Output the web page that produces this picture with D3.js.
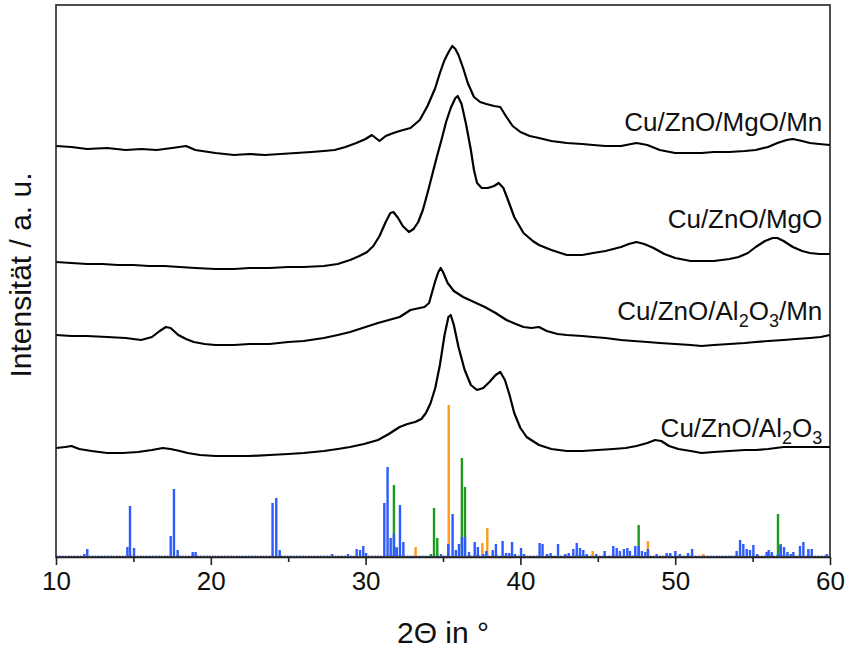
<!DOCTYPE html>
<html>
<head>
<meta charset="utf-8">
<script src="https://cdn.jsdelivr.net/npm/d3@7"></script>
<style>
  body { margin: 0; background: #fff; }
  svg text { font-family: "Liberation Sans", Arial, sans-serif; fill: #111; }
</style>
</head>
<body>
<div id="chart"></div>
<script>
// XRD patterns, [2theta, intensity a.u.]
const mgoMn = [[10,411],[11,410],[12,408],[13.3,409],[14.5,407],[15.5,408],[16.5,407],[17.5,409],[18.4,411],[19,407],[20.3,404],[21.5,402],[22.5,403],[23.5,402],[24.5,403],[25.5,404],[26.5,405],[27.3,406],[28,407],[28.7,410],[29.4,414],[30,418],[30.4,422],[30.9,416],[31.3,421],[31.8,424],[32.2,426],[32.9,429],[33.5,437],[34,451],[34.5,469],[34.8,484],[35.1,497],[35.4,506],[35.6,511],[35.8,508],[36,502],[36.3,489],[36.6,474],[37,460],[37.4,455],[37.8,453],[38.3,451],[38.7,450],[39.1,440],[39.5,431],[40,425],[40.6,421],[41.2,419],[42,416],[43,414],[44,413],[44.7,412],[45.5,411],[46.5,411],[47.5,414],[48.2,412],[49,407],[50,404],[51,404],[51.7,404],[52.5,405],[53.5,405],[54.5,406],[55.2,407],[56,410],[56.6,414],[57.2,417],[57.6,418],[58.2,416],[58.7,414],[59.3,413],[60,412]];
const mgo = [[10,295],[11,294],[12,293],[13,293],[14,292],[15,292],[16,291],[17,291],[18,290],[19,289],[20.3,288],[21.5,288],[22.5,289],[23.8,289],[25,290],[26,290],[27.3,291],[28.2,293],[29,297],[29.6,301],[30.1,305],[30.5,311],[30.9,321],[31.3,335],[31.6,344],[31.8,345],[32.1,339],[32.4,331],[32.8,325],[33.1,328],[33.4,335],[33.7,347],[34,364],[34.3,382],[34.6,400],[34.9,417],[35.2,435],[35.5,449],[35.8,459],[35.95,461],[36.2,453],[36.5,432],[36.8,407],[37,387],[37.2,374],[37.5,369],[37.9,369],[38.3,371],[38.6,374],[38.9,369],[39.2,357],[39.6,340],[40.2,324],[40.8,316],[41.2,312],[42,307],[43,302],[44,302],[44.7,304],[45.5,306],[46.5,310],[47,313],[47.5,315],[48,313],[48.6,309],[49.3,303],[50,299],[51,296],[51.7,296],[52.5,296],[53.5,298],[54.1,300],[54.7,304],[55.2,310],[55.8,316],[56.3,319],[56.6,319],[57,316],[57.6,310],[58.2,306],[58.7,304],[59.3,303],[60,303]];
const alMn = [[10,222],[11,221],[12,221],[13.3,220],[14.5,219],[15.5,217],[16.2,220],[16.7,226],[17.1,230],[17.4,229],[17.9,222],[18.4,218],[18.9,215],[19.6,213],[20.3,212],[21.5,212],[22.5,213],[23.8,213],[25,215],[26,216],[27.3,219],[28.2,222],[29,225],[29.4,227],[30,230],[30.8,234],[31.5,237],[32.2,240],[32.6,244],[32.9,247],[33.2,248],[33.5,249],[33.8,250],[34.1,254],[34.3,265],[34.5,276],[34.7,285],[34.85,289],[35,285],[35.3,274],[35.7,266],[36.3,260],[37,255],[37.7,250],[38.4,244],[39.1,237],[39.7,233],[40.2,230],[40.7,229],[41.2,230],[41.7,226],[42.4,223],[43,222],[44,221],[44.7,220],[45.5,219],[46.5,217],[47.3,216],[48.2,215],[49,214],[50,213],[51,212],[51.7,211],[52.5,212],[53.5,213],[54.5,214],[55.2,215],[56,216],[57,217],[57.8,218],[58.7,219],[59.4,220],[60,222]];
const al = [[10,109],[10.6,110],[11,111],[11.5,108],[12.3,106],[13.3,104],[14.3,104],[15.3,105],[16.2,107],[16.9,109],[17.4,108],[18,106],[18.5,104],[19.3,102],[20.3,101],[21.5,101],[22.5,101],[23.8,102],[25,103],[26,104],[27.3,106],[28.2,108],[29,110],[29.9,113],[30.8,117],[31.5,123],[32.2,130],[32.7,133],[33.2,135],[33.6,138],[33.9,144],[34.2,154],[34.5,169],[34.8,192],[35.1,222],[35.35,240],[35.5,242],[35.7,232],[36,210],[36.4,187],[36.8,172],[37.2,167],[37.6,169],[38,175],[38.4,182],[38.7,185],[39,177],[39.3,162],[39.6,144],[40,129],[40.4,120],[41.2,112],[42,108],[43,106],[44,106],[45,107],[46,108],[46.8,109],[47.5,111],[48.2,114],[48.7,117],[49.1,116],[49.6,111],[50.2,108],[51,106],[51.7,104],[52.5,105],[53.5,106],[54.5,107],[55.2,107],[56,108],[57,110],[58,110],[59,110],[60,110]];

const curveNames = ["Cu/ZnO/MgO/Mn", "Cu/ZnO/MgO", "Cu/ZnO/Al2O3/Mn", "Cu/ZnO/Al2O3"];
const labelLevels = [426, 329, 237, 120];

// reference patterns [2theta, rel. intensity]
const refBlue = [[11.83,2],[12.02,7],[14.61,9],[14.78,50],[15.04,8],[17.41,20],[17.62,67],[17.86,6],[18.83,4],[19.02,4],[23.99,53],[24.23,58],[24.45,6],[27.84,2],[28.86,2],[29.42,7],[29.64,6],[29.85,10],[30.03,3],[31.21,53],[31.42,89],[31.62,18],[31.83,22],[32.0,8],[32.22,51],[32.44,14],[34.87,2],[35.34,12],[35.62,42],[35.83,6],[36.03,12],[36.22,19],[36.42,19],[36.68,4],[37.05,14],[37.25,9],[37.6,2],[37.8,5],[38.21,6],[38.42,12],[38.85,15],[39.07,3],[39.28,3],[39.46,14],[39.65,2],[40.04,8],[40.23,2],[41.24,13],[41.43,12],[41.72,2],[41.95,3],[42.43,12],[42.9,2],[43.12,3],[43.42,7],[43.64,13],[43.85,8],[44.06,6],[44.28,2],[44.9,2],[45.44,5],[46.0,10],[46.22,8],[46.43,5],[46.69,7],[46.91,8],[47.08,5],[47.42,10],[47.64,10],[47.85,5],[48.07,4],[48.24,7],[48.8,2],[49.45,3],[49.68,3],[50.01,5],[50.3,2],[50.83,3],[51.09,7],[53.97,5],[54.19,16],[54.4,12],[54.62,7],[54.83,6],[55.05,11],[55.3,2],[55.91,4],[56.04,6],[56.24,4],[56.64,2],[56.81,11],[57.03,9],[57.25,4],[57.47,2],[57.63,4],[58.06,10],[58.28,14],[58.6,7],[58.82,7],[59.79,2]];
const refGreen = [[31.83,71],[32.0,9],[34.22,2],[34.42,48],[34.63,18],[36.22,98],[36.42,69],[47.64,31],[56.64,42],[56.81,12]];
const refOrange = [[33.23,9],[35.37,151],[37.54,13],[37.86,28],[44.67,5],[48.24,15],[51.82,2]];

const xTicks = [10, 20, 30, 40, 50, 60];
const xMinor = [15, 25, 35, 45, 55];

const W = 846, H = 650;
const margin = { top: 5, right: 16, bottom: 93, left: 56 };
const width = W - margin.left - margin.right;
const height = H - margin.top - margin.bottom;

const svg = d3.select("#chart").append("svg")
    .attr("width", W).attr("height", H)
    .append("g")
    .attr("transform", `translate(${margin.left},${margin.top})`);

const x = d3.scaleLinear().domain([10, 60]).range([0, width]);
const y = d3.scaleLinear().domain([0, height]).range([height, 0]);

// reference sticks: orange, green, blue on top
const stickBase = 1;
svg.append("line")
    .attr("x1", 0).attr("x2", width)
    .attr("y1", y(stickBase)).attr("y2", y(stickBase))
    .attr("stroke", "#3a5cff").attr("stroke-width", 1.2)
    .attr("stroke-dasharray", "1.5,1.5");

function sticks(data, color) {
    svg.append("g").selectAll("rect")
        .data(data).enter().append("rect")
        .attr("x", d => x(d[0]) - 1.2)
        .attr("width", 2.4)
        .attr("y", d => y(stickBase + d[1]))
        .attr("height", d => y(stickBase) - y(stickBase + d[1]))
        .attr("fill", color);
}
sticks(refOrange, "#ff9a1f");
sticks(refGreen, "#1e9a1e");
sticks(refBlue, "#2d5bff");

// patterns
const line = d3.line().x(d => x(d[0])).y(d => y(d[1]));
[mgoMn, mgo, alMn, al].forEach(s => {
    svg.append("path")
        .datum(s)
        .attr("fill", "none")
        .attr("stroke", "#000")
        .attr("stroke-width", 2.2)
        .attr("stroke-linejoin", "round")
        .attr("d", line);
});

// curve labels, digits as subscripts
curveNames.forEach((name, i) => {
    const t = svg.append("text")
        .attr("x", x(59.5))
        .attr("y", y(labelLevels[i]))
        .attr("text-anchor", "end")
        .style("font-size", "26px");
    let sub = false;
    name.split(/(\d)/).filter(p => p !== "").forEach(part => {
        const isSub = /\d/.test(part);
        const ts = t.append("tspan").text(part);
        if (isSub) ts.attr("dy", 7).style("font-size", "18px");
        else if (sub) ts.attr("dy", -7);
        sub = isSub;
    });
});

// frame
svg.append("rect")
    .attr("width", width).attr("height", height)
    .attr("fill", "none").attr("stroke", "#222").attr("stroke-width", 1.6);

// x axis
const xAxis = svg.append("g")
    .attr("transform", `translate(0,${height})`)
    .call(d3.axisBottom(x).tickValues(xTicks).tickSize(8).tickPadding(7).tickSizeOuter(0));
xAxis.select(".domain").attr("stroke", "#222").attr("stroke-width", 1.6);
xAxis.selectAll(".tick line").attr("stroke", "#222").attr("stroke-width", 1.6);
xAxis.selectAll(".tick text").style("font-size", "26px").attr("fill", "#111");

svg.append("g")
    .attr("transform", `translate(0,${height})`)
    .call(d3.axisBottom(x).tickValues(xMinor).tickSize(5).tickFormat("").tickSizeOuter(0))
    .call(g => g.select(".domain").remove())
    .selectAll(".tick line").attr("stroke", "#222").attr("stroke-width", 1.6);

// axis titles
svg.append("text")
    .attr("x", width / 2)
    .attr("y", height + 86)
    .attr("text-anchor", "middle")
    .style("font-size", "30px")
    .text("2\u0398 in \u00B0");

svg.append("text")
    .attr("transform", "rotate(-90)")
    .attr("x", -height / 2 + 6)
    .attr("y", -25)
    .attr("text-anchor", "middle")
    .style("font-size", "30px")
    .text("Intensität / a. u.");
</script>
</body>
</html>
